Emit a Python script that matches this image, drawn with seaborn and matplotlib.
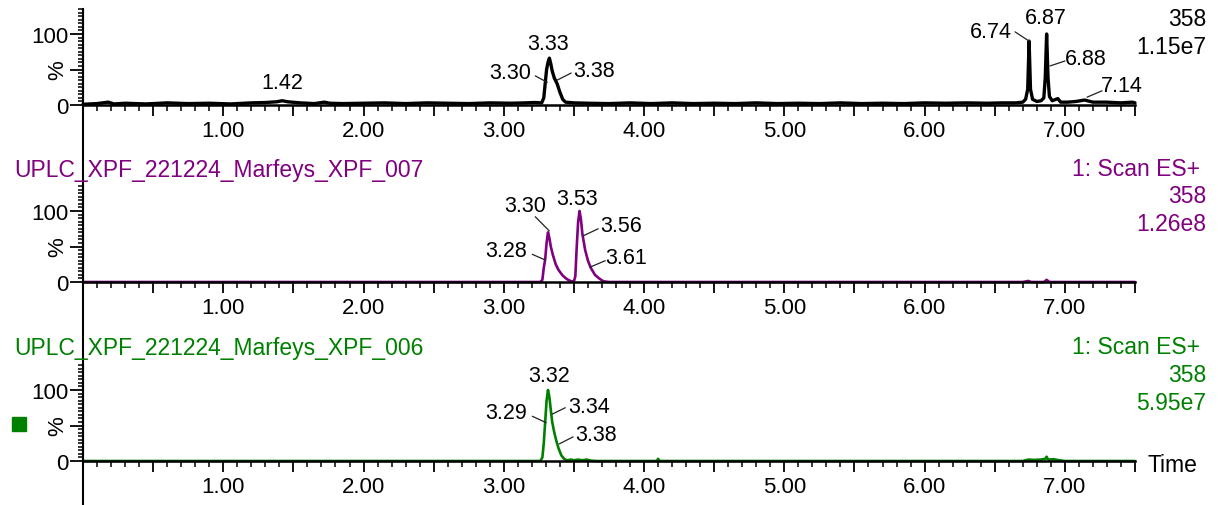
import matplotlib
matplotlib.use('Agg')
import matplotlib.pyplot as plt
import seaborn as sns
from matplotlib.ticker import MultipleLocator, FixedLocator, FuncFormatter
from matplotlib.lines import Line2D
from matplotlib.patches import Rectangle

# --- data (time in min, intensity in %) ---
time_blk = [0.00, 0.10, 0.18, 0.22, 0.30, 0.45, 0.60, 0.75, 0.90, 1.05, 1.20, 1.30, 1.38,
            1.42, 1.46, 1.55, 1.65, 1.72, 1.76, 1.85, 2.00, 2.15, 2.30, 2.45, 2.60, 2.75,
            2.90, 3.05, 3.15, 3.22, 3.27, 3.285, 3.295, 3.305, 3.315, 3.325, 3.335, 3.345,
            3.36, 3.38, 3.40, 3.42, 3.44, 3.50, 3.60, 3.75, 3.90, 4.05, 4.20, 4.35, 4.50,
            4.65, 4.80, 4.95, 5.10, 5.25, 5.40, 5.55, 5.70, 5.85, 6.00, 6.15, 6.30, 6.45,
            6.55, 6.65, 6.70, 6.72, 6.735, 6.745, 6.755, 6.77, 6.80, 6.83, 6.85, 6.86, 6.87,
            6.88, 6.89, 6.91, 6.95, 6.97, 7.02, 7.08, 7.14, 7.20, 7.30, 7.40, 7.48, 7.50]
pct_blk = [1, 2, 4, 1.5, 2.5, 1.5, 3, 2, 2.5, 1.5, 3, 3.5, 4.5,
           6, 4.5, 3, 2, 4, 2.5, 2, 2.5, 3, 2, 3, 2.5, 2,
           3, 2.5, 3, 3.5, 3, 10, 30, 50, 60, 66, 58, 48,
           38, 30, 18, 8, 4, 3, 2.5, 2, 3, 2, 3, 2, 2.5,
           2, 3, 2, 2.5, 2, 3, 2, 2.5, 2, 3, 2.5, 3, 2.5,
           3, 3, 4, 8, 22, 90, 22, 8, 5, 6, 10, 38, 100,
           38, 12, 6, 9, 4, 4, 5, 7, 4, 4, 3, 4, 3]

time_pur = [0.00, 3.26, 3.275, 3.285, 3.295, 3.305, 3.315, 3.325, 3.335, 3.35, 3.37, 3.39,
            3.42, 3.45, 3.48, 3.50, 3.51, 3.52, 3.53, 3.54, 3.55, 3.56, 3.58, 3.60, 3.62,
            3.65, 3.68, 3.71, 3.75, 6.70, 6.74, 6.76, 6.85, 6.87, 6.89, 7.50]
pct_pur = [0, 0, 3, 20, 32, 55, 70, 62, 50, 38, 25, 17,
           9, 4, 1, 1, 8, 50, 85, 100, 88, 68, 45, 30, 20,
           10, 5, 1, 0, 0, 1.5, 0, 0, 3, 0, 0]

time_grn = [0.00, 3.26, 3.275, 3.285, 3.295, 3.305, 3.315, 3.325, 3.335, 3.345, 3.36, 3.375,
            3.39, 3.41, 3.43, 3.45, 3.48, 3.50, 3.53, 3.56, 3.59, 3.62, 3.66, 4.09, 4.10,
            4.11, 6.70, 6.74, 6.78, 6.83, 6.86, 6.87, 6.88, 6.92, 6.96, 7.00, 7.50]
pct_grn = [0, 0, 5, 25, 55, 85, 100, 90, 72, 55, 40, 28,
           18, 8, 3, 1, 2, 1, 2, 1, 2, 0.5, 0, 0, 3,
           0, 0, 2, 1.5, 2, 3, 6, 2, 2.5, 1, 0, 0]

# peak labels: (text, text x, text y, leader line or None)
labels_blk = [("1.42", 1.421, 31, None), ("3.33", 3.317, 86, None),
              ("3.30", 3.046, 46, (3.224, 41, 3.310, 32)),
              ("3.38", 3.645, 49, (3.480, 45, 3.380, 35)),
              ("6.74", 6.474, 104, (6.645, 103, 6.745, 90)),
              ("6.87", 6.866, 123, None),
              ("6.88", 7.151, 66, (7.001, 62, 6.894, 55)),
              ("7.14", 7.408, 27, (7.265, 20, 7.158, 11))]
labels_pur = [("3.30", 3.153, 108, (3.224, 92, 3.324, 72)),
              ("3.28", 3.017, 44, (3.203, 39, 3.295, 31)),
              ("3.53", 3.523, 118, None),
              ("3.56", 3.837, 79, (3.673, 75, 3.566, 65)),
              ("3.61", 3.873, 35, (3.723, 30, 3.616, 21))]
labels_grn = [("3.32", 3.324, 120, None),
              ("3.29", 3.017, 69, (3.203, 63, 3.302, 54)),
              ("3.34", 3.609, 77, (3.438, 75, 3.345, 66)),
              ("3.38", 3.659, 37, (3.494, 34, 3.395, 24))]

titles = [None, "UPLC_XPF_221224_Marfeys_XPF_007", "UPLC_XPF_221224_Marfeys_XPF_006"]
scan = [None, "1: Scan ES+", "1: Scan ES+"]
mass = ["358", "358", "358"]
tic = ["1.15e7", "1.26e8", "5.95e7"]

W, H = 1218, 506
sns.set_theme(style='white')
plt.rcParams['font.family'] = ['Liberation Sans', 'DejaVu Sans']
plt.rcParams['font.size'] = 16

fig = plt.figure(figsize=(W / 100, H / 100), dpi=100)
fig.patch.set_facecolor('white')

def fx(px):
    return px / W

def fy(py):
    return 1 - py / H

colors = ['black', '#800080', '#008000']
zero_px = [106, 283, 462]
pxper = 0.71
ax_h = 96
traces = [(time_blk, pct_blk), (time_pur, pct_pur), (time_grn, pct_grn)]
all_labels = [labels_blk, labels_pur, labels_grn]
x0, x1 = 83, 1135

for i in range(3):
    z = zero_px[i]
    ax = fig.add_axes([fx(x0), fy(z), fx(x1) - fx(x0), ax_h / H])
    ax.patch.set_alpha(0)
    t, p = traces[i]
    sns.lineplot(x=t, y=p, ax=ax, color=colors[i], lw=2.4 if i == 0 else 1.9,
                 estimator=None, sort=False, clip_on=False)
    ax.set_xlim(0, 7.5)
    ax.set_ylim(0, ax_h / pxper)
    for s in ['top', 'right']:
        ax.spines[s].set_visible(False)
    ax.spines['bottom'].set_linewidth(1.8)
    ax.spines['left'].set_linewidth(1.5)
    ax.spines['bottom'].set_color('black')
    ax.spines['left'].set_color('black')

    ax.xaxis.set_major_locator(MultipleLocator(0.5))
    ax.xaxis.set_minor_locator(MultipleLocator(0.1))
    ax.xaxis.set_major_formatter(FuncFormatter(
        lambda v, pos: f"{v:.2f}" if v > 0 and abs(v - round(v)) < 1e-6 else ""))
    ax.yaxis.set_major_locator(FixedLocator([0, 50, 100]))
    ax.yaxis.set_minor_locator(MultipleLocator(5))
    ax.yaxis.set_major_formatter(FuncFormatter(
        lambda v, pos: {0: "0", 100: "100"}.get(int(round(v)), "")))
    ax.tick_params(axis='x', which='major', direction='out', length=8, width=1.3,
                   pad=3, labelsize=16, colors='black', bottom=True)
    ax.tick_params(axis='x', which='minor', direction='out', length=4.5, width=1.3,
                   bottom=True)
    ax.tick_params(axis='y', which='major', direction='out', length=9.5, width=1.3,
                   pad=1, labelsize=16, colors='black', left=True)
    ax.tick_params(axis='y', which='minor', direction='out', length=3.5, width=1.3,
                   left=True)
    ax.set_xlabel('')
    ax.set_ylabel('')

    for txt, tx, ty, ln in all_labels[i]:
        ax.text(tx, ty, txt, ha='center', va='center', fontsize=15.5, color='black')
        if ln is not None:
            ax.annotate('', xy=(ln[2], ln[3]), xytext=(ln[0], ln[1]),
                        arrowprops=dict(arrowstyle='-', color='#222222', lw=0.9,
                                        shrinkA=0, shrinkB=0))

    # "%" axis label
    fig.text(fx(58), fy(z - 50 * pxper), '%', rotation=90, ha='center', va='center',
             fontsize=16, color='black')

    c = colors[i]
    if titles[i]:
        fig.text(fx(14), fy(z - 113), titles[i], ha='left', va='center', color=c,
                 fontsize=16.5)
        fig.text(fx(1200), fy(z - 114), scan[i], ha='right', va='center', color=c,
                 fontsize=16.5)
    fig.text(fx(1206), fy(z - 86), mass[i], ha='right', va='center', color=c, fontsize=16.5)
    fig.text(fx(1206), fy(z - 58), tic[i], ha='right', va='center', color=c, fontsize=16.5)

# continuous left axis line running through all panels
fig.add_artist(Line2D([fx(x0), fx(x0)], [fy(10), fy(506)], color='black', lw=1.5))

fig.text(fx(1147), fy(466), 'Time', ha='left', va='center', fontsize=16.5, color='black')
fig.add_artist(Rectangle((fx(12), fy(432)), 14 / W, 14 / H, color='#008000',
                         transform=fig.transFigure))

fig.savefig('out.png', dpi=100, facecolor='white')
